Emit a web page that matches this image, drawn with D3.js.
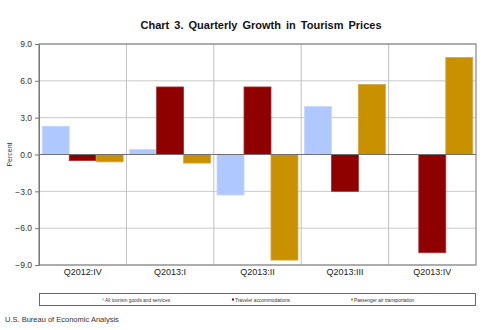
<!DOCTYPE html>
<html><head><meta charset="utf-8">
<script src="https://cdn.jsdelivr.net/npm/d3@7"></script>
<style>body{margin:0;background:#fff}svg{display:block;font-family:Arial,"Liberation Sans",sans-serif}</style>
</head><body>
<script>
const categories = ["Q2012:IV","Q2013:I","Q2013:II","Q2013:III","Q2013:IV"];
const seriesNames = ["All tourism goods and services","Traveler accommodations","Passenger air transportation"];
const allTourism = [2.3, 0.4, -3.3, 3.9, 0.0];
const accommodations = [-0.5, 5.5, 5.5, -3.0, -8.0];
const airTransport = [-0.6, -0.7, -8.6, 5.7, 7.9];
const yTicks = [-9, -6, -3, 0, 3, 6, 9];
const colors = ["#afc8ff", "#8f0000", "#c99100"];
const strokes = ["#c4d6ff", "#a83030", "#d8a640"];

const W = 485, H = 330;
const m = {left: 39, right: 476, top: 44, bottom: 265};
const svg = d3.select("body").append("svg").attr("width", W).attr("height", H);

const x0 = d3.scaleBand().domain(categories).range([m.left, m.right]).paddingInner(0).paddingOuter(0);
const x1 = d3.scaleBand().domain(seriesNames).range([0, x0.bandwidth()]).paddingOuter(0.12).paddingInner(0);
const y = d3.scaleLinear().domain([-9, 9]).range([m.bottom, m.top]);

// horizontal grid
svg.append("g").selectAll("line").data(yTicks).join("line")
  .attr("x1", m.left).attr("x2", m.right)
  .attr("y1", d => y(d)).attr("y2", d => y(d))
  .attr("stroke", "#c8c8c8").attr("stroke-width", 1);
// vertical category separators
svg.append("g").selectAll("line").data(categories.slice(1)).join("line")
  .attr("x1", d => x0(d)).attr("x2", d => x0(d))
  .attr("y1", m.top).attr("y2", m.bottom)
  .attr("stroke", "#c0c0c0").attr("stroke-width", 1);

// bars
const data = [allTourism, accommodations, airTransport];
data.forEach((vals, si) => {
  svg.append("g").selectAll("rect").data(vals.map((v, i) => ({v, c: categories[i]}))).join("rect")
    .attr("x", d => x0(d.c) + x1(seriesNames[si]))
    .attr("width", x1.bandwidth())
    .attr("y", d => y(Math.max(0, d.v)))
    .attr("height", d => Math.abs(y(d.v) - y(0)))
    .attr("fill", colors[si])
    .attr("stroke", strokes[si]).attr("stroke-width", 0.8);
});

// zero line
svg.append("line").attr("x1", m.left).attr("x2", m.right).attr("y1", y(0)).attr("y2", y(0))
  .attr("stroke", "#707070").attr("stroke-width", 1);
// frame
svg.append("rect").attr("x", m.left).attr("y", m.top).attr("width", m.right - m.left).attr("height", m.bottom - m.top)
  .attr("fill", "none").attr("stroke", "#888").attr("stroke-width", 1.2);

// y axis
const yAxis = d3.axisLeft(y).tickValues(yTicks).tickFormat(d3.format(".1f")).tickSize(4).tickPadding(3);
const ga = svg.append("g").attr("transform", `translate(${m.left},0)`).call(yAxis);
ga.select(".domain").attr("stroke", "#777");
ga.selectAll(".tick line").attr("stroke", "#777");
ga.selectAll("text").attr("font-size", 8.5).attr("fill", "#333").attr("font-family", "Arial,'Liberation Sans',sans-serif");

// x axis labels
const xAxis = d3.axisBottom(x0).tickSize(0).tickPadding(4);
const gx = svg.append("g").attr("transform", `translate(0,${m.bottom})`).call(xAxis);
gx.select(".domain").remove();
gx.selectAll("text").attr("font-size", 9).attr("fill", "#222").attr("font-family", "Arial,'Liberation Sans',sans-serif");

// y label
svg.append("text").attr("transform", `translate(12,${y(0)}) rotate(-90)`).attr("text-anchor", "middle")
  .attr("font-size", 7).attr("fill", "#333").text("Percent");

// title
svg.append("text").attr("x", 261).attr("y", 29).attr("text-anchor", "middle")
  .attr("font-size", 11).attr("font-weight", "bold").attr("fill", "#111").attr("word-spacing", 2)
  .text("Chart 3. Quarterly Growth in Tourism Prices");

// legend
svg.append("rect").attr("x", 39.5).attr("y", 293.5).attr("width", 436).attr("height", 12)
  .attr("fill", "#fff").attr("stroke", "#666").attr("stroke-width", 1);
const legX = [102, 232, 351];
seriesNames.forEach((n, i) => {
  svg.append("rect").attr("x", legX[i]).attr("y", 298.5).attr("width", 2).attr("height", 2).attr("fill", colors[i]);
  svg.append("text").attr("x", legX[i] + 3).attr("y", 301.5).attr("font-size", 4.8).attr("fill", "#333").text(n);
});

// source
svg.append("text").attr("x", 5).attr("y", 322).attr("font-size", 7.5).attr("fill", "#333").text("U.S. Bureau of Economic Analysis");
</script>
</body></html>
